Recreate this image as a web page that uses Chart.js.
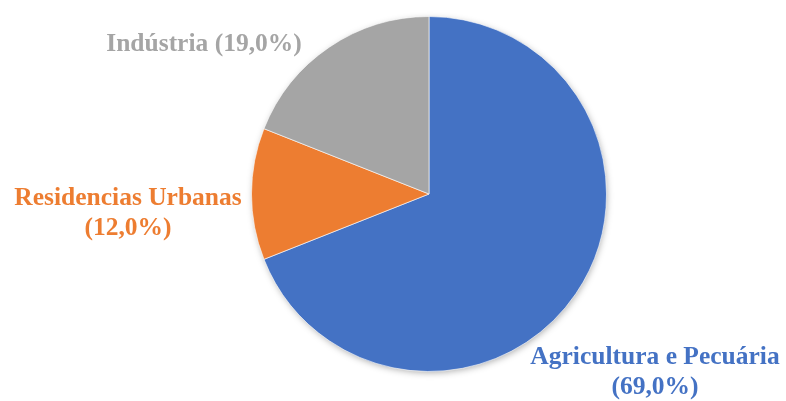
<!DOCTYPE html>
<html>
<head>
<meta charset="utf-8">
<script src="https://cdn.jsdelivr.net/npm/chart.js@4"></script>
<style>
  html, body { margin: 0; padding: 0; background: #fff; }
  #wrap { width: 786px; height: 401px; position: relative; }
</style>
</head>
<body>
<div id="wrap"><canvas id="pieChart"></canvas></div>
<script>
// Share of water use by sector (%)
const sectors = ["Agricultura e Pecuária", "Residencias Urbanas", "Indústria"];
const shares = [69.0, 12.0, 19.0];
const sliceColors = ["#4472C4", "#ED7D31", "#A5A5A5"];

// where each label block sits, relative to the pie centre (px)
const labelOffsets = [[226, 178], [-301, 19], [-225, -150]];

function formatShare(v) {
    return "(" + v.toFixed(1).replace(".", ",") + "%)";
}

// soft shadow drawn under the whole pie
const pieShadow = {
    id: 'pieShadow',
    beforeDatasetsDraw(chart) {
        const arc = chart.getDatasetMeta(0).data[0];
        if (!arc) return;
        const ctx = chart.ctx;
        ctx.save();
        ctx.shadowColor = 'rgba(0,0,0,0.35)';
        ctx.shadowBlur = 7;
        ctx.shadowOffsetX = 1;
        ctx.shadowOffsetY = 2;
        ctx.fillStyle = '#fff';
        ctx.beginPath();
        ctx.arc(arc.x, arc.y, arc.outerRadius - 1, 0, Math.PI * 2);
        ctx.fill();
        ctx.restore();
    }
};

// category name + percentage beside each slice
const sliceLabels = {
    id: 'sliceLabels',
    afterDatasetsDraw(chart) {
        const meta = chart.getDatasetMeta(0);
        const ctx = chart.ctx;
        ctx.save();
        ctx.font = 'bold 25.5px "Liberation Serif", "Times New Roman", serif';
        ctx.textAlign = 'center';
        ctx.textBaseline = 'middle';
        meta.data.forEach((arc, i) => {
            const x = arc.x + labelOffsets[i][0];
            const y = arc.y + labelOffsets[i][1];
            ctx.fillStyle = sliceColors[i];
            const value = chart.data.datasets[0].data[i];
            if (i === 2) {
                ctx.fillText(sectors[i] + " " + formatShare(value), x, y);
            } else {
                ctx.fillText(sectors[i], x, y - 15);
                ctx.fillText(formatShare(value), x, y + 15);
            }
        });
        ctx.restore();
    }
};

const config = {
    type: 'pie',
    data: {
        labels: sectors,
        datasets: [{
            data: shares,
            backgroundColor: sliceColors,
            borderColor: 'rgba(255,255,255,0.6)',
            borderWidth: 1
        }]
    },
    options: {
        responsive: true,
        maintainAspectRatio: false,
        animation: false,
        layout: {
            padding: { top: 16, bottom: 29, left: 251, right: 179 }
        },
        plugins: {
            legend: { display: false },
            tooltip: { enabled: false }
        }
    },
    plugins: [pieShadow, sliceLabels]
};

window.onload = function() {
    const ctx = document.getElementById('pieChart').getContext('2d');
    window.pieChart = new Chart(ctx, config);
};
</script>
</body>
</html>
